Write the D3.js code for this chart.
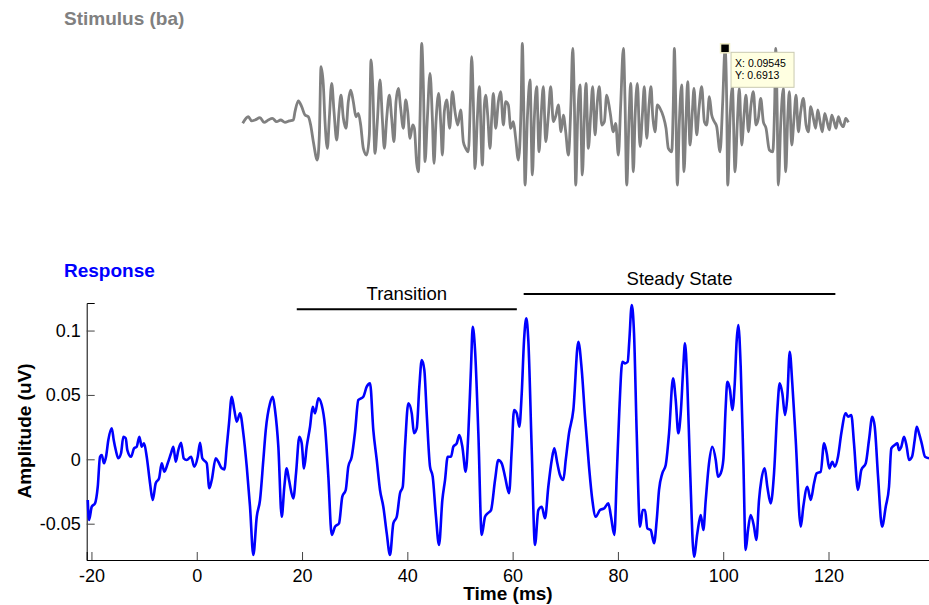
<!DOCTYPE html>
<html>
<head>
<meta charset="utf-8">
<script src="https://cdn.jsdelivr.net/npm/d3@7.9.0/dist/d3.min.js"></script>
<style>
  body { margin: 0; background: #fff; }
  svg { display: block; }
  text { font-family: "Liberation Sans", Arial, Helvetica, sans-serif; }
</style>
</head>
<body>
<script>
// ---- stimulus waveform (time in s, amplitude in a.u.)
const stimTime = [0.00000,0.00111,0.00178,0.00243,0.00342,0.00422,0.00507,0.00586,0.00672,0.00751,0.00837,0.00923,0.01002,0.01035,0.01101,0.01167,0.01233,0.01299,0.01345,0.01398,
  0.01477,0.01517,0.01550,0.01596,0.01629,0.01675,0.01714,0.01761,0.01807,0.01860,0.01906,0.01945,0.01992,0.02044,0.02090,0.02137,0.02189,0.02242,0.02288,0.02335,
  0.02387,0.02453,0.02506,0.02539,0.02572,0.02618,0.02664,0.02717,0.02763,0.02803,0.02849,0.02902,0.02948,0.02994,0.03034,0.03080,0.03126,0.03179,0.03225,0.03265,
  0.03311,0.03364,0.03397,0.03443,0.03476,0.03509,0.03542,0.03575,0.03608,0.03654,0.03707,0.03753,0.03786,0.03825,0.03878,0.03924,0.03951,0.03990,0.04037,0.04096,
  0.04149,0.04201,0.04254,0.04314,0.04366,0.04413,0.04465,0.04505,0.04531,0.04564,0.04597,0.04643,0.04683,0.04742,0.04782,0.04808,0.04848,0.04894,0.04927,0.04960,
  0.05006,0.05059,0.05105,0.05158,0.05204,0.05257,0.05303,0.05356,0.05402,0.05455,0.05508,0.05534,0.05560,0.05587,0.05633,0.05686,0.05732,0.05771,0.05818,0.05864,
  0.05903,0.05950,0.05996,0.06049,0.06095,0.06147,0.06200,0.06246,0.06299,0.06345,0.06392,0.06444,0.06497,0.06530,0.06563,0.06590,0.06629,0.06675,0.06721,0.06761,
  0.06794,0.06840,0.06886,0.06926,0.06972,0.07018,0.07058,0.07104,0.07157,0.07203,0.07269,0.07335,0.07381,0.07434,0.07480,0.07533,0.07566,0.07599,0.07645,0.07678,
  0.07731,0.07764,0.07810,0.07863,0.07909,0.07948,0.07995,0.08041,0.08080,0.08113,0.08160,0.08206,0.08258,0.08324,0.08377,0.08423,0.08490,0.08522,0.08542,0.08569,
  0.08601,0.08641,0.08687,0.08733,0.08773,0.08806,0.08852,0.08898,0.08931,0.08984,0.09030,0.09083,0.09136,0.09182,0.09235,0.09281,0.09334,0.09380,0.09446,0.09499,
  0.09545,0.09578,0.09598,0.09644,0.09690,0.09743,0.09789,0.09828,0.09875,0.09921,0.09960,0.10007,0.10059,0.10105,0.10158,0.10204,0.10251,0.10303,0.10356,0.10422,
  0.10488,0.10528,0.10548,0.10574,0.10600,0.10646,0.10699,0.10746,0.10785,0.10818,0.10864,0.10910,0.10950,0.10996,0.11042,0.11095,0.11148,0.11194,0.11240,0.11293,
  0.11339,0.11379,0.11425,0.11471,0.11517,0.11564,0.11610,0.11656,0.11702,0.11742,0.11788,0.11834,0.11887,0.11933,0.11985];
const stimAmp = [-0.017,0.045,0.005,0.014,0.036,-0.008,0.014,0.030,-0.002,0.014,-0.008,0.005,0.014,0.093,0.194,0.140,0.061,0.045,-0.033,-0.191,
  -0.364,-0.127,0.518,0.345,-0.002,-0.254,0.030,0.360,0.093,-0.175,0.093,0.250,0.030,-0.064,0.187,0.297,0.187,0.045,0.077,-0.033,
  -0.254,-0.317,-0.127,0.581,0.345,-0.301,-0.002,0.392,0.030,-0.254,0.030,0.250,0.030,-0.191,0.187,0.313,0.124,-0.064,0.203,0.093,
  -0.159,-0.033,-0.064,-0.396,-0.475,0.030,0.738,0.345,-0.380,0.030,0.455,0.030,-0.396,-0.002,0.266,-0.064,-0.317,0.093,0.203,-0.064,
  0.283,0.093,-0.033,0.109,-0.191,-0.254,-0.286,0.187,0.612,0.187,-0.444,0.030,0.329,-0.412,0.156,0.250,0.061,-0.254,0.030,0.266,
  -0.064,0.187,0.282,-0.033,0.187,0.156,-0.064,-0.002,-0.159,-0.364,0.124,0.738,0.187,-0.600,0.030,0.392,-0.505,0.030,0.329,-0.286,
  0.030,0.329,-0.191,0.061,0.329,-0.002,0.061,0.156,-0.097,0.061,-0.097,-0.317,0.187,0.690,0.187,-0.600,0.030,0.345,-0.505,0.030,
  0.360,-0.254,0.061,0.329,-0.127,0.187,0.329,-0.033,-0.002,0.250,0.093,-0.097,-0.017,-0.317,0.156,0.690,0.187,-0.600,0.030,0.360,
  -0.475,0.030,0.360,-0.238,0.061,0.329,-0.159,0.156,0.329,0.061,-0.097,0.156,0.124,0.045,-0.064,-0.254,-0.286,0.187,0.690,0.187,
  -0.600,-0.002,0.345,-0.475,0.030,0.376,-0.222,0.093,0.313,-0.127,0.124,0.329,-0.002,-0.033,0.234,0.061,-0.002,-0.049,-0.286,0.187,
  0.6913,0.187,-0.600,0.030,0.329,-0.475,-0.002,0.313,-0.222,0.061,0.250,-0.097,0.156,0.282,-0.033,0.030,0.218,-0.002,-0.064,-0.269,
  -0.286,0.187,0.690,0.187,-0.600,-0.033,0.313,-0.475,0.030,0.282,-0.222,0.030,0.250,-0.097,0.093,0.218,-0.033,-0.097,0.140,0.030,
  -0.064,0.109,-0.002,-0.097,0.077,-0.002,-0.080,0.061,-0.002,-0.064,0.045,-0.017,-0.049,0.030,-0.008];

// ---- response waveform (time in ms, amplitude in uV)
const respTime = [-20.70,-20.46,-19.94,-19.32,-18.80,-18.37,-18.04,-17.61,-17.23,-16.79,-16.14,-15.77,-15.38,-14.89,-14.38,-13.94,-13.49,-13.18,-12.48,-11.91,
  -11.40,-10.90,-10.45,-10.01,-9.50,-8.87,-8.36,-7.79,-7.16,-6.65,-6.15,-5.51,-4.88,-4.44,-3.99,-3.49,-2.98,-2.47,-1.90,-1.08,
  -0.46,0.19,0.63,1.06,1.90,2.39,2.85,3.61,4.10,4.75,5.24,5.70,6.13,6.65,7.14,7.60,8.22,8.85,9.50,10.12,
  10.75,11.40,12.02,12.65,13.11,13.92,14.43,14.87,15.50,16.14,16.64,17.09,17.53,18.35,18.86,19.49,19.94,20.38,20.89,21.52,
  22.03,22.47,23.10,23.74,24.37,25.00,25.64,26.27,27.03,27.65,28.30,28.79,29.44,30.07,30.69,31.64,32.29,32.92,33.54,34.19,
  34.81,35.44,36.09,36.71,37.34,37.99,38.61,39.13,39.56,40.19,40.84,41.27,41.79,42.28,42.74,43.23,43.68,44.31,44.82,45.39,
  46.02,46.65,47.16,47.67,48.30,48.74,49.38,49.88,50.45,51.09,51.59,52.10,52.42,52.86,53.49,54.13,54.76,55.27,55.90,56.66,
  57.28,57.93,58.56,59.32,59.83,60.27,60.78,61.27,61.73,62.17,62.60,62.98,63.63,64.25,64.88,65.53,66.15,66.78,67.43,67.92,
  68.49,69.00,69.63,70.09,70.71,71.53,72.48,73.13,73.75,74.51,75.14,75.78,76.60,77.42,78.18,78.69,79.32,79.77,80.27,80.84,
  81.35,81.86,82.17,82.62,83.06,83.57,84.20,84.71,85.15,85.58,86.23,86.86,87.37,87.81,88.43,89.08,89.71,90.47,90.98,91.47,
  91.93,92.42,92.74,93.18,93.69,94.45,95.08,95.73,96.22,96.68,97.30,97.93,98.58,99.01,99.53,100.02,100.47,100.78,101.29,101.73,
  102.19,102.56,102.87,103.32,103.82,104.27,104.71,105.22,105.85,106.29,106.80,107.24,107.88,108.38,109.02,109.65,110.28,110.73,111.23,111.74,
  112.18,112.63,113.12,113.77,114.73,115.21,115.97,116.62,117.25,117.76,118.52,119.15,119.66,120.15,120.72,121.18,121.80,122.43,123.27,123.71,
  124.33,124.84,125.60,126.23,127.07,127.69,128.32,128.78,129.41,130.17,130.87,131.49,131.93,132.58,133.07,133.39,133.83,134.34,134.85,135.29,
  135.86,136.37,136.75,137.19,137.70,138.33,139.09];
const respAmp = [-0.0316,-0.0471,-0.0368,-0.0342,-0.0213,0.0020,0.0033,-0.0031,0.0020,0.0150,0.0241,0.0150,0.0072,0.0008,0.0047,0.0175,0.0163,0.0072,0.0020,0.0085,
  0.0098,0.0175,0.0098,0.0124,0.0020,-0.0186,-0.0316,-0.0186,-0.0148,-0.0031,-0.0096,-0.0031,0.0047,0.0098,-0.0019,0.0072,0.0129,0.0008,-0.0005,0.0020,
  -0.0057,0.0020,0.0129,0.0008,-0.0031,-0.0225,-0.0161,0.0008,-0.0019,-0.0070,-0.0078,0.0098,0.0280,0.0486,0.0383,0.0292,0.0357,0.0202,-0.0057,-0.0368,
  -0.0743,-0.0446,-0.0316,-0.0005,0.0227,0.0435,0.0486,0.0383,0.0098,-0.0446,-0.0213,-0.0070,-0.0161,-0.0303,-0.0109,0.0175,0.0124,-0.0070,0.0098,0.0253,
  0.0408,0.0357,0.0474,0.0422,0.0253,-0.0135,-0.0588,-0.0523,-0.0497,-0.0290,-0.0238,-0.0057,0.0020,0.0214,0.0460,0.0486,0.0564,0.0590,0.0227,-0.0005,
  -0.0238,-0.0368,-0.0575,-0.0743,-0.0497,-0.0446,-0.0264,-0.0213,0.0098,0.0435,0.0357,0.0202,0.0241,0.0564,0.0771,0.0693,0.0357,-0.0057,-0.0135,-0.0419,
  -0.0665,-0.0316,-0.0161,0.0020,0.0020,0.0098,0.0124,0.0189,0.0098,-0.0096,0.0202,0.0719,0.1030,0.0849,0.0202,-0.0588,-0.0446,-0.0419,-0.0394,-0.0161,
  -0.0005,-0.0031,-0.0135,-0.0264,0.0072,0.0383,0.0357,0.0253,0.0512,0.0926,0.1095,0.0926,0.0072,-0.0665,-0.0394,-0.0368,-0.0458,-0.0213,-0.0005,0.0085,
  -0.0031,-0.0122,-0.0161,-0.0005,0.0202,0.0383,0.0913,0.0693,0.0331,-0.0057,-0.0316,-0.0446,-0.0394,-0.0380,-0.0342,-0.0446,-0.0588,-0.0135,0.0383,0.0758,
  0.0745,0.0758,0.0926,0.1198,0.0978,0.0202,-0.0523,-0.0394,-0.0394,-0.0536,-0.0549,-0.0652,-0.0471,-0.0238,-0.0109,-0.0044,0.0202,0.0629,0.0460,0.0202,
  0.0357,0.0719,0.0901,0.0590,-0.0057,-0.0756,-0.0575,-0.0432,-0.0549,-0.0316,-0.0031,0.0098,-0.0005,-0.0135,-0.0109,-0.0005,0.0408,0.0602,0.0538,0.0383,
  0.0590,0.0926,0.1043,0.0719,-0.0005,-0.0704,-0.0549,-0.0432,-0.0523,-0.0627,-0.0316,-0.0161,-0.0070,-0.0213,-0.0342,-0.0109,0.0383,0.0590,0.0512,0.0344,
  0.0486,0.0835,0.0590,0.0150,-0.0523,-0.0368,-0.0213,-0.0316,-0.0186,-0.0109,-0.0096,0.0124,0.0047,-0.0070,-0.0019,-0.0057,0.0020,0.0202,0.0357,0.0331,
  0.0344,0.0124,-0.0238,-0.0083,-0.0031,0.0150,0.0331,0.0253,-0.0135,-0.0523,-0.0368,-0.0213,0.0085,0.0111,0.0124,0.0072,0.0098,0.0175,0.0098,-0.0005,
  0.0020,0.0150,0.0253,0.0202,0.0124,0.0020,0.0008];

// ---- axes ticks and annotations
const xTicks = [-20, 0, 20, 40, 60, 80, 100, 120];
const yTicks = [-0.05, 0, 0.05, 0.1];
const bracketLabels = ["Transition", "Steady State"];
const bracketStart = [19.0, 62.1];
const bracketEnd = [60.8, 121.3];
const bracketLevel = [0.1165, 0.1283];
const cursorPoint = [0.09545, 0.6913];

const W = 929, H = 605;
const FONT = '"Liberation Sans", Arial, Helvetica, sans-serif';

const svg = d3.select("body").append("svg")
    .attr("width", W)
    .attr("height", H);

// ================= Stimulus panel =================
const sx = d3.scaleLinear().domain([0, 0.12]).range([242.7, 849.1]);
const sy = d3.scaleLinear().domain([-0.7, 0.8]).range([195.6, 36.8]);

svg.append("text")
    .attr("x", 64).attr("y", 25)
    .attr("font-size", 19).attr("font-weight", "bold")
    .attr("fill", "#808080")
    .text("Stimulus (ba)");

const stimLine = d3.line()
    .x((d, i) => sx(stimTime[i]))
    .y(d => sy(d))
    .curve(d3.curveMonotoneX);

svg.append("path")
    .datum(stimAmp)
    .attr("d", stimLine)
    .attr("fill", "none")
    .attr("stroke", "#808080")
    .attr("stroke-width", 2.8)
    .attr("stroke-linejoin", "round");

// data cursor marker + tip
const cx = sx(cursorPoint[0]), cy = sy(cursorPoint[1]);
svg.append("rect")
    .attr("x", cx - 4.5).attr("y", cy - 4.5)
    .attr("width", 9).attr("height", 9)
    .attr("fill", "#000")
    .attr("stroke", "#f2efc8").attr("stroke-width", 1.5);

const tip = svg.append("g").attr("transform", `translate(${cx + 6},${cy + 4})`);
tip.append("rect")
    .attr("width", 63).attr("height", 35)
    .attr("fill", "#ffffe1")
    .attr("stroke", "#c9c9b0").attr("stroke-width", 1);
tip.append("text").attr("x", 4).attr("y", 15)
    .attr("font-size", 10.5).attr("fill", "#000")
    .text("X: " + cursorPoint[0]);
tip.append("text").attr("x", 4).attr("y", 27)
    .attr("font-size", 10.5).attr("fill", "#000")
    .text("Y: " + cursorPoint[1]);

// ================= Response panel =================
const x = d3.scaleLinear().domain([-20.9, 139.2]).range([86.7, 929.6]);
const y = d3.scaleLinear().domain([-0.0782, 0.1214]).range([560, 303]);

svg.append("text")
    .attr("x", 64).attr("y", 277)
    .attr("font-size", 19).attr("font-weight", "bold")
    .attr("fill", "#0000ff")
    .text("Response");

// axes (ticks inside, MATLAB style)
const xAxis = svg.append("g")
    .attr("transform", `translate(0,${y.range()[0]})`)
    .call(d3.axisBottom(x).tickValues(xTicks).tickSize(-8).tickPadding(9)
        .tickFormat(d => String(d)));
const yAxis = svg.append("g")
    .attr("transform", `translate(${x.range()[0]},0)`)
    .call(d3.axisLeft(y).tickValues(yTicks).tickSize(-8).tickPadding(6)
        .tickFormat(d => String(d)));

[xAxis, yAxis].forEach(g => {
    g.select(".domain").attr("stroke", "#000").attr("stroke-width", 1);
    g.selectAll(".tick line").attr("stroke", "#444");
    g.selectAll(".tick text")
        .attr("font-family", FONT).attr("font-size", 18).attr("fill", "#000");
});

// response trace
const respLine = d3.line()
    .x((d, i) => x(respTime[i]))
    .y(d => y(d))
    .curve(d3.curveMonotoneX);

svg.append("path")
    .datum(respAmp)
    .attr("d", respLine)
    .attr("fill", "none")
    .attr("stroke", "#0000ff")
    .attr("stroke-width", 2.6)
    .attr("stroke-linejoin", "round");

// Transition / Steady State brackets
bracketLabels.forEach((lab, i) => {
    svg.append("line")
        .attr("x1", x(bracketStart[i])).attr("x2", x(bracketEnd[i]))
        .attr("y1", y(bracketLevel[i])).attr("y2", y(bracketLevel[i]))
        .attr("stroke", "#000").attr("stroke-width", 2);
    svg.append("text")
        .attr("x", (x(bracketStart[i]) + x(bracketEnd[i])) / 2)
        .attr("y", y(bracketLevel[i]) - 9.5)
        .attr("text-anchor", "middle")
        .attr("font-size", 18.5).attr("fill", "#000")
        .text(lab);
});

// axis titles
svg.append("text")
    .attr("x", 508).attr("y", 600)
    .attr("text-anchor", "middle")
    .attr("font-size", 19).attr("font-weight", "bold")
    .text("Time (ms)");

svg.append("text")
    .attr("transform", "translate(31,431) rotate(-90)")
    .attr("text-anchor", "middle")
    .attr("font-size", 19).attr("font-weight", "bold")
    .text("Amplitude (uV)");
</script>
</body>
</html>
